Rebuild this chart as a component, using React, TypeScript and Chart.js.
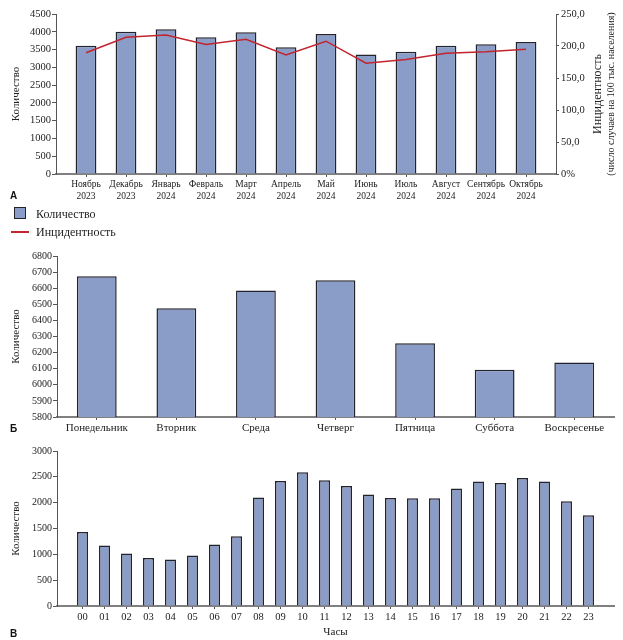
import React, { useEffect, useRef } from 'react';
import { Chart, registerables } from 'chart.js';
import type { ChartConfiguration } from 'chart.js';

Chart.register(...registerables);

// --- data ---
const months = [
  ['Ноябрь', '2023'], ['Декабрь', '2023'], ['Январь', '2024'], ['Февраль', '2024'],
  ['Март', '2024'], ['Апрель', '2024'], ['Май', '2024'], ['Июнь', '2024'],
  ['Июль', '2024'], ['Август', '2024'], ['Сентябрь', '2024'], ['Октябрь', '2024'],
];
const monthlyCount = [3610, 4000, 4070, 3845, 3985, 3565, 3940, 3360, 3435, 3610, 3650, 3715];
const monthlyIncidence = [189.5, 213.5, 217, 202.5, 210.5, 186, 207.5, 173, 179, 188.5, 191, 195];

const weekdays = ['Понедельник', 'Вторник', 'Среда', 'Четверг', 'Пятница', 'Суббота', 'Воскресенье'];
const weekdayCount = [6675, 6475, 6585, 6650, 6258, 6094, 6138];

const hours = ['00', '01', '02', '03', '04', '05', '06', '07', '08', '09', '10', '11',
  '12', '13', '14', '15', '16', '17', '18', '19', '20', '21', '22', '23'];
const hourlyCount = [1430, 1170, 1017, 927, 901, 979, 1191, 1352, 2099, 2421, 2588, 2433,
  2324, 2157, 2092, 2086, 2086, 2273, 2408, 2382, 2479, 2408, 2028, 1758];

const countLabel = 'Количество';
const incidenceLabel = 'Инцидентность';
const incidenceNote = '(число случаев на 100 тыс. населения)';
const hoursLabel = 'Часы';

const SERIF = '"Liberation Serif", "Times New Roman", serif';
const BAR_FILL = '#8a9cc8';
const BAR_EDGE = '#23232b';
const LINE_RED = '#c3242d';
const AXIS = '#555';

Chart.defaults.font.family = SERIF;
Chart.defaults.color = '#222';

// widen the outer half-gaps of a category axis (in category units)
const padCategories = (extra: number) => (scale: any) => {
  scale._startValue -= extra;
  scale._valueRange += extra * 2;
};

const xAxis = (height: number, size: number, extra: number) => ({
  type: 'category' as const,
  grid: { drawOnChartArea: false, drawTicks: true, tickLength: 3, offset: false, color: AXIS },
  border: { color: '#808080', width: 2 },
  ticks: { font: { size }, maxRotation: 0, autoSkip: false, padding: 2, color: '#222' },
  afterBuildTicks: padCategories(extra),
  afterFit: (s: any) => { s.height = height; },
});

const countAxis = (min: number, max: number, step: number, width: number, size: number) => ({
  type: 'linear' as const,
  position: 'left' as const,
  min, max,
  grid: { drawOnChartArea: false, tickLength: 4, color: AXIS },
  border: { color: AXIS, width: 1 },
  ticks: { stepSize: step, font: { size }, padding: 1, color: '#222', callback: (v: any) => String(v) },
  title: { display: true, text: countLabel, font: { size: 11 }, padding: { top: 10, bottom: 0 }, color: '#222' },
  afterFit: (s: any) => { s.width = width; },
});

const barStyle = (barPercentage: number) => ({
  backgroundColor: BAR_FILL,
  borderColor: BAR_EDGE,
  borderWidth: 1.5,
  categoryPercentage: 1,
  barPercentage,
});

// right-hand axis title, read bottom-to-top like the left one
const incidenceTitle = {
  id: 'incidenceTitle',
  afterDraw(chart: any) {
    const { ctx, chartArea, width } = chart;
    const cy = (chartArea.top + chartArea.bottom) / 2;
    const lines: [string, number, number][] = [
      [incidenceLabel, 12, width - 25],
      [incidenceNote, 10, width - 12],
    ];
    ctx.save();
    ctx.fillStyle = '#222';
    ctx.textAlign = 'center';
    ctx.textBaseline = 'middle';
    for (const [text, size, x] of lines) {
      ctx.save();
      ctx.translate(x, cy);
      ctx.rotate(-Math.PI / 2);
      ctx.font = `${size}px ${SERIF}`;
      ctx.fillText(text, 0, 0);
      ctx.restore();
    }
    ctx.restore();
  },
};

const monthlyConfig = (): ChartConfiguration => ({
  type: 'bar',
  data: {
    labels: months,
    datasets: [
      {
        type: 'line',
        label: incidenceLabel,
        data: monthlyIncidence,
        yAxisID: 'y1',
        borderColor: LINE_RED,
        borderWidth: 1.5,
        pointRadius: 0,
        tension: 0,
        order: 0,
      } as any,
      { type: 'bar', label: countLabel, data: monthlyCount, yAxisID: 'y', order: 1, ...barStyle(0.52) } as any,
    ],
  },
  options: {
    responsive: true,
    maintainAspectRatio: false,
    animation: false,
    layout: { padding: { top: 14, right: 0, bottom: 0, left: 0 } },
    plugins: { legend: { display: false }, tooltip: { enabled: false } },
    scales: {
      x: xAxis(31, 9.5, 0.25),
      y: countAxis(0, 4500, 500, 56, 10.5),
      y1: {
        type: 'linear',
        position: 'right',
        min: 0,
        max: 250,
        grid: { drawOnChartArea: false, tickLength: 3, color: AXIS },
        border: { color: AXIS, width: 1 },
        ticks: {
          stepSize: 50,
          font: { size: 10.5 },
          padding: 2,
          color: '#222',
          callback: (v: any) => (v === 0 ? '0%' : Number(v).toFixed(1).replace('.', ',')),
        },
        afterFit: (s: any) => { s.width = 67; },
      } as any,
    },
  },
  plugins: [incidenceTitle],
});

const weekdayConfig = (): ChartConfiguration => ({
  type: 'bar',
  data: {
    labels: weekdays,
    datasets: [{ label: countLabel, data: weekdayCount, ...barStyle(0.5) } as any],
  },
  options: {
    responsive: true,
    maintainAspectRatio: false,
    animation: false,
    layout: { padding: { top: 16, right: 9, bottom: 0, left: 0 } },
    plugins: { legend: { display: false }, tooltip: { enabled: false } },
    scales: {
      x: xAxis(23, 11, 0) as any,
      y: countAxis(5800, 6800, 100, 57, 10) as any,
    },
  },
});

const hourlyConfig = (): ChartConfiguration => ({
  type: 'bar',
  data: {
    labels: hours,
    datasets: [{ label: countLabel, data: hourlyCount, ...barStyle(0.5) } as any],
  },
  options: {
    responsive: true,
    maintainAspectRatio: false,
    animation: false,
    layout: { padding: { top: 11, right: 9, bottom: 0, left: 0 } },
    plugins: { legend: { display: false }, tooltip: { enabled: false } },
    scales: {
      x: {
        ...xAxis(34, 10.5, 0.66),
        title: { display: true, text: hoursLabel, font: { size: 11 }, padding: { top: 0, bottom: 1 }, color: '#222' },
      } as any,
      y: countAxis(0, 3000, 500, 57, 10) as any,
    },
  },
});

const ChartBox: React.FC<{ top: number; height: number; make: () => ChartConfiguration }> = ({ top, height, make }) => {
  const canvasRef = useRef<HTMLCanvasElement | null>(null);

  useEffect(() => {
    const canvas = canvasRef.current;
    if (!canvas) return;
    const chart = new Chart(canvas, make());
    return () => chart.destroy();
  }, [make]);

  return (
    <div style={{ position: 'absolute', left: 0, top, width: 623, height }}>
      <canvas ref={canvasRef} />
    </div>
  );
};

const panelLetter = (text: string, top: number) => (
  <div
    style={{
      position: 'absolute', left: 10, top, fontFamily: '"Liberation Sans", Arial, sans-serif',
      fontWeight: 700, fontSize: 10, lineHeight: '12px', color: '#111',
    }}
  >
    {text}
  </div>
);

const legendText: React.CSSProperties = {
  position: 'absolute', left: 36, fontFamily: SERIF, fontSize: 12, lineHeight: '14px', color: '#222',
};

export default function App() {
  return (
    <div style={{ position: 'absolute', left: 0, top: 0, width: 623, height: 640, background: '#fff' }}>
      <ChartBox top={0} height={205} make={monthlyConfig} />
      {panelLetter('A', 190)}
      <div
        style={{
          position: 'absolute', left: 14, top: 207, width: 10, height: 10,
          background: BAR_FILL, border: `1.5px solid ${BAR_EDGE}`,
        }}
      />
      <div style={{ ...legendText, top: 207 }}>{countLabel}</div>
      <div style={{ position: 'absolute', left: 11, top: 231, width: 18, height: 2, background: LINE_RED }} />
      <div style={{ ...legendText, top: 225 }}>{incidenceLabel}</div>
      <ChartBox top={240} height={200} make={weekdayConfig} />
      {panelLetter('Б', 423)}
      <ChartBox top={440} height={200} make={hourlyConfig} />
      {panelLetter('В', 628)}
    </div>
  );
}
